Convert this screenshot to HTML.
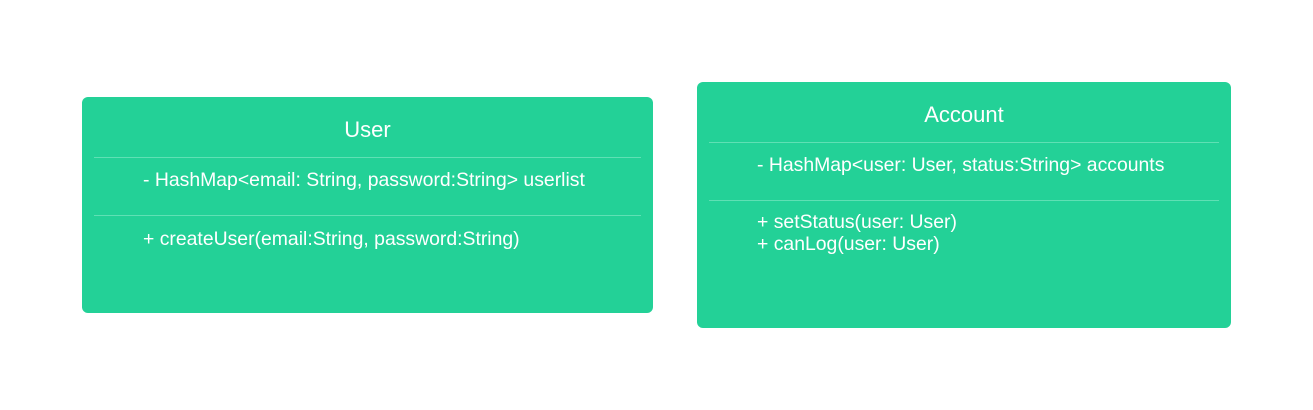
<!DOCTYPE html>
<html><head><style>
body{margin:0;width:1313px;height:410px;background:#fff;position:relative;font-family:"Liberation Sans",sans-serif;color:#fff;overflow:hidden}
.b{position:absolute;background:#23d197;border-radius:6px}
.t{position:absolute;left:0;right:0;text-align:center;font-size:22px}
.l{position:absolute;height:1px;background:#5fe0b4}
.x{position:absolute;font-size:19.4px;line-height:22px;white-space:nowrap}
</style></head><body>
<div class="b" style="left:82px;top:97px;width:571px;height:216px">
<div class="t" style="top:20px">User</div>
<div class="l" style="left:12px;right:12px;top:60px"></div>
<div class="x" style="left:61px;top:72px">- HashMap&lt;email: String, password:String&gt; userlist</div>
<div class="l" style="left:12px;right:12px;top:118px"></div>
<div class="x" style="left:61px;top:131px">+ createUser(email:String, password:String)</div>
</div>
<div class="b" style="left:697px;top:82px;width:534px;height:246px">
<div class="t" style="top:20px">Account</div>
<div class="l" style="left:12px;right:12px;top:60px"></div>
<div class="x" style="left:60px;top:72px">- HashMap&lt;user: User, status:String&gt; accounts</div>
<div class="l" style="left:12px;right:12px;top:118px"></div>
<div class="x" style="left:60px;top:129px">+ setStatus(user: User)<br>+ canLog(user: User)</div>
</div>
</body></html>
